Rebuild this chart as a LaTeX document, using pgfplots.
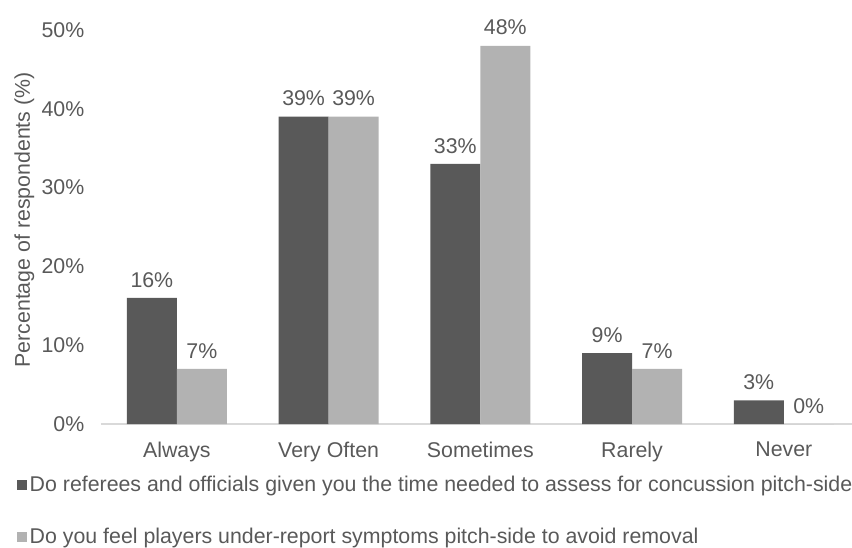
\documentclass[border=0pt]{standalone}
\usepackage{pgfplots}
\pgfplotsset{compat=1.18}
\usepackage{fontspec}
\setmainfont{Liberation Sans}
\definecolor{darkbar}{HTML}{595959}
\definecolor{lightbar}{HTML}{B2B2B2}
\definecolor{txt}{HTML}{595959}
\definecolor{axisgray}{HTML}{D9D9D9}
\newcommand\f{\fontsize{16}{19}\selectfont}

\begin{document}
\begin{tikzpicture}
    \begin{axis}[
        at={(0,0)}, anchor=south west,
        scale only axis,
        width=569pt, height=295.5pt,
        ybar=0pt, bar width=37.5pt,
        xmin=-0.5, xmax=4.5,
        ymin=0, ymax=50,
        xtick=data,
        xticklabels={Always,Very Often,Sometimes,Rarely,Never},
        ytick={0,10,20,30,40,50},
        yticklabels={0\%,10\%,20\%,30\%,40\%,50\%},
        major tick length=0pt,
        axis x line*=bottom,
        axis y line*=left,
        x axis line style={draw=axisgray, line width=1.2pt},
        y axis line style={draw=none},
        ticklabel style={font=\f, text=txt},
        xticklabel style={yshift=-10pt},
        yticklabel style={xshift=-9pt},
        ylabel={Percentage of respondents (\%)},
        ylabel style={at={(axis description cs:-0.101,0.518)}, anchor=center, font=\f, text=txt},
        nodes near coords={\pgfmathprintnumber[assume math mode=true]{\pgfplotspointmeta}\%},
        nodes near coords style={font=\f, text=txt, yshift=4.5pt},
        legend style={at={(axis description cs:-0.111,-0.125)}, anchor=north west,
            draw=none, fill=none, font=\f, text=txt, row sep=22pt,
            inner sep=0pt, cells={anchor=west}},
        legend cell align=left,
        legend image code/.code={\fill[#1] (0pt,-3.75pt) rectangle (7.5pt,3.75pt);},
        clip=false
    ]
    % first question
    \addplot[fill=darkbar, draw=none] coordinates {
        (0,16) (1,39) (2,33) (3,9) (4,3)
    };
    \addlegendentry{Do referees and officials given you the time needed to assess for concussion pitch-side}
    % second question
    \addplot[fill=lightbar, draw=none] coordinates {
        (0,7) (1,39) (2,48) (3,7) (4,0)
    };
    \addlegendentry{Do you feel players under-report symptoms pitch-side to avoid removal}
    \end{axis}
    \pgfresetboundingbox
    \path[use as bounding box] (-75.75pt,-92.25pt) rectangle (563.25pt,318pt);
\end{tikzpicture}
\end{document}
